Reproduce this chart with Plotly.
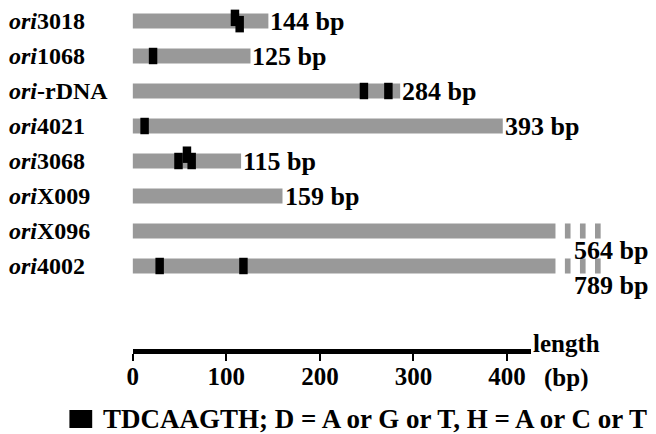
import plotly.graph_objects as go

# ---- data ----
name_suffix = ["3018", "1068", "-rDNA", "4021", "3068", "X009", "X096", "4002"]
lengths_bp = [144, 125, 284, 393, 115, 159, 564, 789]
motif_row = [0, 0, 1, 2, 2, 3, 4, 4, 4, 7, 7]
motif_start = [104, 109, 17, 241, 267, 8, 44, 53, 58, 24, 113]
motif_level = [-1, 1, 0, 0, 0, 0, 0, -2, 0, 0, 0]
motif_len = 9
scale_ticks = [0, 100, 200, 300, 400]
legend_text = "TDCAAGTH; D = A or G or T, H = A or C or T"

# ---- layout constants ----
W, H = 656, 434
X0_PX, PX_PER_BP = 128, 0.95
CUTOFF = 449
BAR_W = 0.43
MOTIF_W = 0.47
LEVEL_STEP = 0.09
GRAY = "#999999"
FONT = "Liberation Serif"

rows = list(range(len(lengths_bp)))
shown = [min(L, CUTOFF) for L in lengths_bp]
trunc_rows = [r for r, L in zip(rows, lengths_bp) if L > CUTOFF]

fig = go.Figure()

# main gray bars
fig.add_trace(go.Bar(orientation="h", y=rows, x=shown, base=[0] * len(rows),
                     width=BAR_W, marker=dict(color=GRAY, line=dict(width=0)),
                     hoverinfo="skip", showlegend=False))

# broken (dashed) continuation of truncated bars
dash_off = [10, 26, 42]
dy, dx, db = [], [], []
for r in trunc_rows:
    for o in dash_off:
        dy.append(r)
        dx.append(6)
        db.append(CUTOFF + o)
fig.add_trace(go.Bar(orientation="h", y=dy, x=dx, base=db, width=BAR_W,
                     marker=dict(color=GRAY, line=dict(width=0)),
                     hoverinfo="skip", showlegend=False))

# motif boxes
fig.add_trace(go.Bar(orientation="h",
                     y=[r + l * LEVEL_STEP for r, l in zip(motif_row, motif_level)],
                     x=[motif_len] * len(motif_start), base=motif_start,
                     width=MOTIF_W, marker=dict(color="black", line=dict(width=0)),
                     hoverinfo="skip", showlegend=False))

# dummy trace for the scale axis
fig.add_trace(go.Scatter(x=[0], y=[0], xaxis="x2", yaxis="y", mode="markers",
                         marker=dict(opacity=0), hoverinfo="skip", showlegend=False))

ann = []
for r, s in zip(rows, name_suffix):
    ann.append(dict(x=1 / W, xref="paper", y=r, yref="y", xanchor="left", yanchor="middle",
                    text="<i>ori</i>" + s, showarrow=False,
                    font=dict(family=FONT, size=24, color="black", weight="bold")))
for r, L in zip(rows, lengths_bp):
    if L > CUTOFF:
        ann.append(dict(x=CUTOFF + 18, xref="x", y=r + 0.55, yref="y", xanchor="left",
                        yanchor="middle", text=f"{L} bp", showarrow=False,
                        font=dict(family=FONT, size=26, color="black", weight="bold")))
    else:
        ann.append(dict(x=L, xref="x", y=r, yref="y", xanchor="left", yanchor="middle",
                        xshift=0, text=f"{L} bp", showarrow=False,
                        font=dict(family=FONT, size=26, color="black", weight="bold")))

ann.append(dict(x=530 / W, xref="paper", y=1 - 343 / H, yref="paper", xanchor="left",
                yanchor="middle", text="length", showarrow=False,
                font=dict(family=FONT, size=25, color="black", weight="bold")))
ann.append(dict(x=541 / W, xref="paper", y=1 - 378 / H, yref="paper", xanchor="left",
                yanchor="middle", text="(bp)", showarrow=False,
                font=dict(family=FONT, size=25, color="black", weight="bold")))
ann.append(dict(x=96 / W, xref="paper", y=1 - 419 / H, yref="paper", xanchor="left",
                yanchor="middle", text=legend_text, showarrow=False,
                font=dict(family=FONT, size=27, color="black", weight="bold")))

shapes = [dict(type="rect", xref="paper", yref="paper",
               x0=64 / W, x1=87 / W, y0=1 - 428 / H, y1=1 - 410 / H,
               fillcolor="black", line=dict(width=0))]

x_lo = -X0_PX / PX_PER_BP
x_hi = (W - X0_PX) / PX_PER_BP
scale_end_px = 530
scale_px_per_bp = 0.944

fig.update_layout(
    width=W, height=H, margin=dict(l=0, r=0, t=0, b=0),
    paper_bgcolor="white", plot_bgcolor="rgba(0,0,0,0)",
    barmode="overlay", showlegend=False,
    xaxis=dict(range=[x_lo, x_hi], visible=False, fixedrange=True),
    yaxis=dict(range=[11.8, -0.6], visible=False, fixedrange=True),
    xaxis2=dict(domain=[X0_PX / W, scale_end_px / W],
                range=[0, (scale_end_px - X0_PX) / scale_px_per_bp],
                anchor="free", position=1 - 351 / H, side="bottom",
                showline=True, linewidth=5, linecolor="black",
                showgrid=False, zeroline=False,
                tickmode="array", tickvals=scale_ticks, ticktext=[str(t) for t in scale_ticks],
                ticks="outside", ticklen=7, tickwidth=2, tickcolor="black",
                ticklabelstandoff=-6,
                tickfont=dict(family=FONT, size=25, color="black", weight="bold"),
                fixedrange=True),
    annotations=ann, shapes=shapes,
)

fig.write_html("out.html", config={"displayModeBar": False},
               post_script="document.body.style.margin='0';document.body.style.overflow='hidden';")
